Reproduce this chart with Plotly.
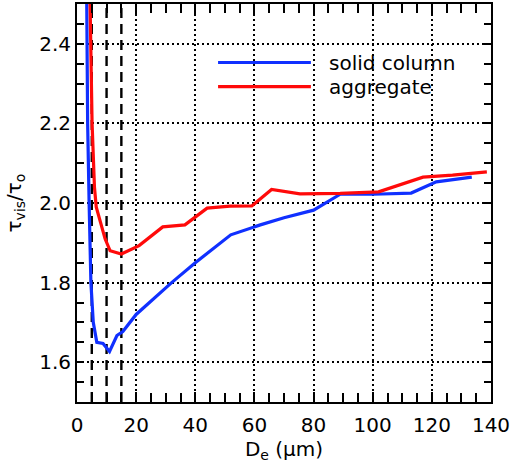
import plotly.graph_objects as go

# ---- data ----
col_x = [3.2, 3.3, 3.6, 4.1, 4.7, 5.5, 6.7, 8.8, 11.0, 13.5, 15.5, 20.0, 27.0, 32.0,
         40.0, 52.0, 62.0, 70.0, 80.0, 89.0, 100.0, 113.0, 121.5, 133.5]
col_y = [2.60, 2.40, 2.20, 2.00, 1.80, 1.70, 1.650, 1.647, 1.627, 1.667, 1.677, 1.720,
         1.767, 1.800, 1.850, 1.920, 1.945, 1.963, 1.982, 2.022, 2.022, 2.025, 2.053, 2.065]

agg_x = [4.2, 4.6, 5.1, 5.9, 6.5, 8.0, 9.5, 11.2, 15.0, 21.0, 29.0, 36.5, 44.0, 51.7,
         59.1, 65.8, 75.4, 89.0, 102.0, 117.0, 127.0, 138.6]
agg_y = [2.60, 2.40, 2.20, 2.04, 1.99, 1.95, 1.91, 1.880, 1.872, 1.893, 1.940, 1.945,
         1.987, 1.992, 1.9925, 2.034, 2.023, 2.024, 2.028, 2.065, 2.070, 2.078]

dashed_x = [5, 10, 15]
series_names = ["solid column", "aggregate"]
series_colors = ["#1030ff", "#ff0a0a"]

x_range = [0, 140]
y_range = [1.5, 2.5]

FONT = "DejaVu Sans"

# ---- figure ----
fig = go.Figure()
fig.add_trace(go.Scatter(x=col_x, y=col_y, mode="lines", name=series_names[0],
                         line=dict(color=series_colors[0], width=3.2), showlegend=False))
fig.add_trace(go.Scatter(x=agg_x, y=agg_y, mode="lines", name=series_names[1],
                         line=dict(color=series_colors[1], width=3.2), showlegend=False))

for xv in dashed_x:
    fig.add_shape(type="line", xref="x", yref="y", x0=xv, x1=xv, y0=y_range[0], y1=y_range[1],
                  line=dict(color="black", width=2.4, dash="10px,6px"), layer="below")

# manual legend (long line samples like the original)
leg_y = [2.353, 2.2925]
for name, color, ly in zip(series_names, series_colors, leg_y):
    fig.add_shape(type="line", xref="x", yref="y", x0=47.7, x1=79.1, y0=ly, y1=ly,
                  line=dict(color=color, width=3.2))
    fig.add_annotation(x=84.5, y=ly, xref="x", yref="y", text=name, showarrow=False,
                       xanchor="left", yanchor="middle",
                       font=dict(family=FONT, size=20, color="black"))

grid_style = dict(showgrid=True, gridcolor="black", gridwidth=1.6, griddash="2px,3px")

fig.update_xaxes(range=x_range, dtick=20, tick0=0, ticks="inside", ticklen=10, tickwidth=1.5,
                 tickcolor="black", showline=True, linecolor="black", linewidth=2,
                 mirror="ticks", zeroline=False, ticklabelstandoff=4,
                 minor=dict(dtick=5, ticks="inside", ticklen=9, tickwidth=1.5, tickcolor="black",
                            showgrid=False),
                 tickfont=dict(family=FONT, size=20, color="black"),
                 title=dict(text="D<sub>e</sub> (μm)", standoff=5,
                            font=dict(family=FONT, size=20, color="black")),
                 **grid_style)
fig.update_yaxes(range=y_range, dtick=0.2, tick0=1.6, tickformat=".1f", ticks="inside",
                 ticklen=7, tickwidth=1.5, tickcolor="black", showline=True, linecolor="black",
                 linewidth=2, mirror="ticks", zeroline=False,
                 minor=dict(dtick=0.05, ticks="inside", ticklen=7, tickwidth=1.5,
                            tickcolor="black", showgrid=False),
                 tickfont=dict(family=FONT, size=20, color="black"),
                 title=dict(text="τ<sub>vis</sub>/τ<sub>o</sub>", standoff=12,
                            font=dict(family=FONT, size=20, color="black")),
                 **grid_style)

fig.update_layout(width=525, height=466, margin=dict(l=77, r=34, t=2, b=64),
                  plot_bgcolor="white", paper_bgcolor="white", showlegend=False)

fig.write_html("out.html")
